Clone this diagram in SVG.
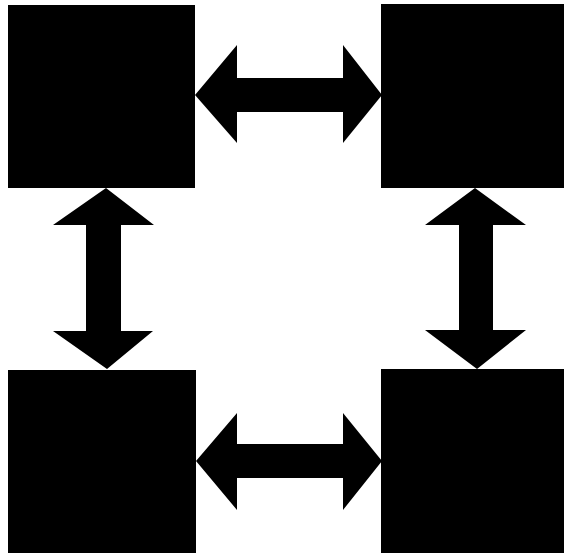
<svg xmlns="http://www.w3.org/2000/svg" width="564" height="556" viewBox="0 0 564 556">
<style>
.box{fill:#000}
.arrow{fill:#000}
</style>
<rect width="564" height="556" fill="#fff"/>
<g id="node-tl"><rect class="box" x="8" y="5" width="187" height="183"/></g>
<g id="node-tr"><rect class="box" x="381" y="4" width="183" height="184"/></g>
<g id="node-bl"><rect class="box" x="8" y="370" width="188" height="183"/></g>
<g id="node-br"><rect class="box" x="381" y="369" width="183" height="184"/></g>
<g id="connectors">
<polygon class="arrow" points="195,95 237,45 237,78 343,78 343,45 382,95 343,143 343,112 237,112 237,143"/>
<polygon class="arrow" points="196,461 237,413 237,444 343,444 343,413 382,461 343,510 343,478 237,478 237,510"/>
<polygon class="arrow" points="106,188 154,225 121,225 121,331 153,331 107,369 53,331 86,331 86,225 53,225"/>
<polygon class="arrow" points="475,188 526,225 493,225 493,330 526,330 477,369 425,330 459,330 459,225 425,225"/>
</g>
</svg>
